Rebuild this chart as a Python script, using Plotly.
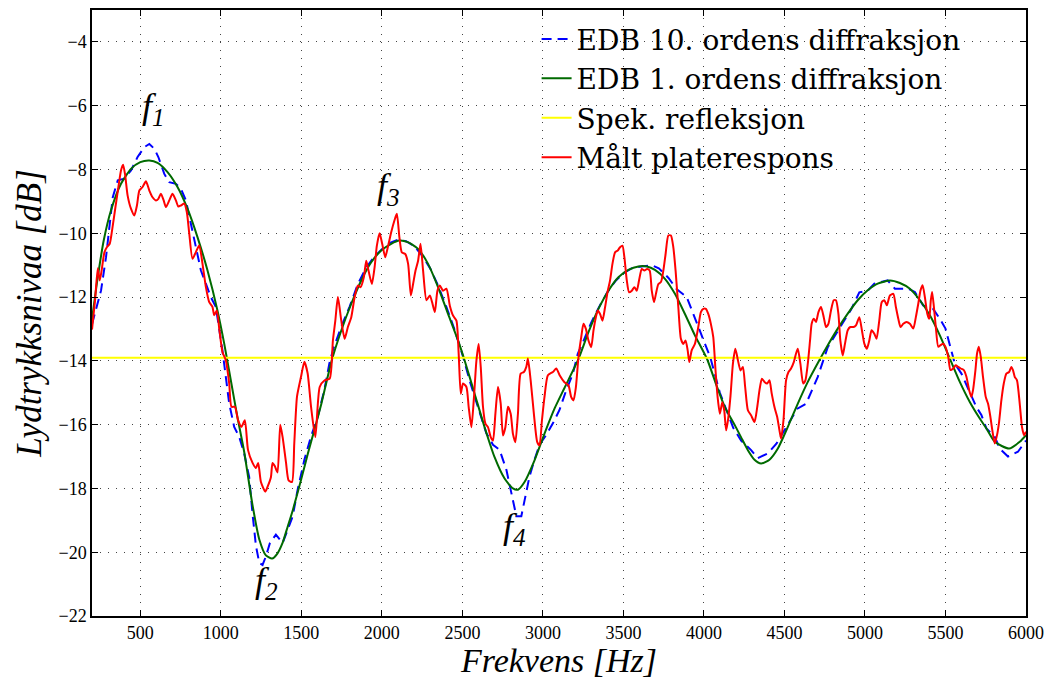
import plotly.graph_objects as go

# ---------------- data ----------------
freq_edb10 = [200, 219, 256, 287, 308, 329, 360, 401, 442, 483, 525, 556, 587, 612, 649, 680, 721, 752,
              783, 814, 845, 876, 907, 938, 969, 990, 1010, 1031, 1052, 1083, 1114, 1145, 1176, 1197,
              1218, 1239, 1259, 1280, 1305, 1342, 1384, 1415, 1446, 1477, 1519, 1560, 1602, 1643, 1674,
              1700, 1750, 1800, 1850, 1900, 1950, 2000, 2050, 2100, 2150, 2200, 2250, 2300, 2350, 2400,
              2450, 2500, 2550, 2600, 2649, 2690, 2731, 2773, 2804, 2835, 2866, 2886, 2917, 2948, 2979,
              3021, 3062, 3103, 3145, 3186, 3217, 3250, 3300, 3350, 3400, 3450, 3500, 3550, 3600, 3676,
              3720, 3780, 3830, 3893, 3940, 3990, 4040, 4099, 4130, 4182, 4231, 4293, 4335, 4397, 4450,
              4521, 4580, 4634, 4707, 4769, 4820, 4872, 4913, 4965, 5017, 5058, 5141, 5186, 5268, 5310,
              5361, 5423, 5465, 5500, 5558, 5599, 5650, 5692, 5723, 5754, 5806, 5837, 5888, 5950, 6000]
lvl_edb10 = [-12.85, -12.47, -11.8, -10.75, -9.8, -8.87, -8.34, -8.29, -8.03, -7.61, -7.3, -7.2, -7.35,
             -7.61, -8.14, -8.4, -8.45, -8.6, -8.97, -9.7, -10.54, -11.16, -11.58, -12.0, -12.31, -12.94,
             -13.67, -14.5, -15.34, -16.07, -16.38, -16.9, -17.64, -18.8, -19.8, -20.34, -20.4, -20.13,
             -19.71, -19.45, -19.71, -19.3, -18.88, -18.04, -17.1, -16.37, -15.75, -14.91, -14.08,
             -13.6, -12.9, -12.3, -11.6, -11.1, -10.75, -10.5, -10.3, -10.2, -10.25, -10.4, -10.7, -11.1,
             -11.65, -12.3, -13.0, -13.8, -14.7, -15.5, -16.27, -16.63, -16.79, -17.41, -18.14, -18.87,
             -18.87, -18.35, -17.62, -17.1, -16.63, -16.32, -15.96, -15.54, -14.92, -14.4, -13.77, -13.4,
             -12.8, -12.3, -11.85, -11.5, -11.25, -11.1, -11.05, -11.0, -11.1, -11.4, -11.75, -12.0,
             -12.6, -13.2, -13.9, -15.0, -15.4, -16.1, -16.5, -16.8, -17.05, -16.9, -16.6, -16.0, -15.5,
             -15.35, -14.5, -13.57, -13.15, -12.7, -12.4, -11.85, -11.8, -11.58, -11.48, -11.74, -11.74,
             -11.84, -12.26, -12.37, -12.68, -12.99, -14.09, -14.4, -15.0, -15.45, -15.7, -16.12, -16.38,
             -16.75, -17.0, -16.85, -16.5]

freq_edb1 = [200, 236, 273, 318, 380, 442, 500, 556, 607, 669, 731, 793, 855, 917, 979, 1021, 1062, 1103,
             1145, 1196, 1239, 1280, 1318, 1350, 1384, 1415, 1446, 1500, 1541, 1583, 1624, 1686, 1748,
             1810, 1872, 1934, 1996, 2058, 2109, 2161, 2225, 2287, 2349, 2411, 2473, 2514, 2576, 2638,
             2700, 2762, 2814, 2845, 2886, 2948, 3010, 3072, 3134, 3221, 3283, 3345, 3407, 3469, 3531,
             3593, 3645, 3696, 3758, 3820, 3882, 3944, 4020, 4080, 4130, 4190, 4231, 4273, 4314, 4355,
             4407, 4459, 4521, 4583, 4645, 4720, 4769, 4831, 4893, 4955, 5017, 5079, 5155, 5217, 5279,
             5341, 5403, 5465, 5527, 5589, 5651, 5713, 5754, 5806, 5895, 5961, 6000]
lvl_edb1 = [-12.7, -11.37, -10.22, -9.28, -8.45, -7.98, -7.77, -7.72, -7.79, -8.08, -8.55, -9.23, -10.12,
            -11.16, -12.42, -13.46, -14.61, -15.76, -16.85, -18.5, -19.6, -20.1, -20.2, -20.05, -19.7,
            -19.2, -18.7, -17.7, -16.9, -16.13, -15.35, -14.04, -13.05, -12.21, -11.48, -10.91, -10.54,
            -10.33, -10.23, -10.28, -10.49, -10.96, -11.69, -12.53, -13.36, -13.99, -15.03, -16.08,
            -17.02, -17.69, -18.0, -18.04, -17.8, -17.12, -16.28, -15.5, -14.85, -13.94, -13.1, -12.37,
            -11.8, -11.38, -11.15, -11.04, -11.04, -11.15, -11.43, -11.9, -12.53, -13.2, -13.95, -14.8,
            -15.45, -16.0, -16.4, -16.8, -17.1, -17.22, -17.1, -16.75, -16.07, -15.34, -14.66, -13.95,
            -13.51, -12.99, -12.52, -12.1, -11.79, -11.58, -11.48, -11.56, -11.74, -12.1, -12.57, -13.2,
            -13.93, -14.66, -15.29, -15.81, -16.12, -16.54, -16.75, -16.54, -16.33]

freq_spek = [200, 6000]
lvl_spek = [-13.9, -13.9]

freq_malt = [200, 219, 236, 248, 260, 277, 293, 310, 326, 347, 364, 380, 393, 405, 421, 442, 463, 479,
             494, 514, 535, 556, 576, 597, 612, 628, 645, 659, 680, 700, 721, 736, 752, 773, 789, 804,
             824, 845, 866, 886, 907, 928, 948, 959, 975, 990, 1010, 1031, 1052, 1066, 1087, 1107, 1128,
             1149, 1169, 1197, 1218, 1232, 1249, 1276, 1290, 1311, 1321, 1335, 1352, 1369, 1384, 1405,
             1421, 1442, 1456, 1473, 1498, 1519, 1539, 1560, 1587, 1614, 1645, 1676, 1696, 1711, 1727,
             1748, 1769, 1789, 1810, 1831, 1851, 1868, 1888, 1903, 1917, 1938, 1955, 1969, 1986, 2002,
             2021, 2037, 2058, 2078, 2093, 2109, 2124, 2145, 2163, 2180, 2194, 2209, 2225, 2240, 2256,
             2277, 2298, 2312, 2329, 2345, 2360, 2380, 2401, 2422, 2442, 2463, 2477, 2490, 2504, 2525,
             2539, 2556, 2572, 2587, 2601, 2614, 2628, 2643, 2659, 2676, 2690, 2705, 2721, 2738, 2752,
             2767, 2783, 2800, 2814, 2829, 2845, 2862, 2882, 2897, 2907, 2924, 2944, 2965, 2979, 2994,
             3010, 3031, 3062, 3083, 3104, 3134, 3159, 3176, 3190, 3205, 3221, 3238, 3252, 3267, 3283,
             3300, 3314, 3329, 3341, 3355, 3370, 3386, 3403, 3417, 3432, 3448, 3465, 3479, 3494, 3506,
             3521, 3535, 3552, 3568, 3583, 3597, 3614, 3630, 3647, 3663, 3676, 3690, 3702, 3717, 3733,
             3748, 3762, 3779, 3795, 3810, 3824, 3841, 3857, 3872, 3886, 3899, 3909, 3924, 3944, 3965,
             3981, 3996, 4012, 4027, 4043, 4058, 4072, 4085, 4099, 4114, 4126, 4138, 4151, 4165, 4180,
             4195, 4211, 4227, 4242, 4256, 4273, 4293, 4314, 4331, 4345, 4360, 4376, 4393, 4407, 4421,
             4438, 4455, 4469, 4479, 4494, 4510, 4525, 4541, 4558, 4572, 4583, 4599, 4616, 4630, 4645,
             4659, 4669, 4682, 4696, 4711, 4727, 4744, 4758, 4773, 4789, 4806, 4820, 4835, 4847, 4862,
             4876, 4893, 4909, 4930, 4944, 4965, 4981, 4996, 5012, 5027, 5041, 5058, 5072, 5089, 5104,
             5120, 5136, 5155, 5176, 5192, 5207, 5221, 5238, 5258, 5279, 5300, 5316, 5331, 5345, 5358,
             5372, 5387, 5399, 5409, 5417, 5428, 5440, 5455, 5469, 5486, 5500, 5517, 5531, 5548, 5564,
             5579, 5595, 5614, 5630, 5647, 5661, 5671, 5686, 5696, 5707, 5719, 5733, 5750, 5764, 5779,
             5791, 5806, 5820, 5833, 5847, 5862, 5878, 5895, 5909, 5919, 5930, 5944, 5961, 5975, 5988,
             6000]
lvl_malt = [-13.02, -12.1, -11.1, -11.48, -11.16, -10.6, -10.43, -10.33, -9.86, -9.13, -8.55, -8.03,
            -7.85, -8.14, -8.81, -9.23, -9.44, -9.13, -8.66, -8.55, -8.37, -8.66, -8.87, -8.97, -8.92,
            -8.76, -8.97, -9.18, -8.97, -8.76, -8.97, -9.16, -9.13, -9.07, -9.34, -10.01, -10.8, -10.59,
            -10.38, -10.95, -11.68, -12.16, -12.31, -12.57, -12.42, -12.99, -13.72, -13.98, -14.71,
            -15.44, -15.44, -15.86, -16.07, -15.86, -16.8, -17.2, -17.36, -17.2, -17.8, -18.1, -17.95,
            -17.65, -17.2, -17.3, -17.5, -16.0, -16.4, -17.2, -17.75, -17.8, -16.6, -15.12, -14.5,
            -14.03, -14.39, -15.43, -16.39, -14.82, -14.61, -14.56, -13.36, -12.74, -12.0, -12.74,
            -13.31, -12.94, -12.63, -12.0, -11.64, -11.69, -11.38, -10.86, -11.17, -11.59, -11.06,
            -10.39, -10.0, -10.33, -10.75, -10.44, -9.97, -9.6, -9.39, -10.13, -10.6, -10.65, -10.96,
            -11.95, -11.59, -11.17, -10.86, -10.33, -11.17, -12.1, -11.95, -12.16, -12.47, -11.8,
            -11.64, -11.8, -11.74, -12.27, -12.58, -12.74, -13.78, -15.03, -14.71, -14.82, -15.44,
            -16.08, -15.14, -14.0, -13.47, -14.19, -15.44, -15.97, -16.08, -16.39, -16.5, -15.66,
            -14.82, -15.34, -16.34, -16.08, -15.44, -15.66, -16.29, -16.55, -15.66, -14.4, -14.35,
            -14.19, -13.93, -14.61, -15.66, -16.55, -16.65, -15.87, -15.13, -14.45, -14.35, -14.24,
            -14.45, -14.67, -14.77, -15.14, -15.24, -14.82, -13.88, -13.26, -12.84, -13.0, -13.36,
            -13.57, -13.05, -12.63, -12.42, -12.53, -12.74, -12.32, -11.8, -11.48, -10.96, -10.6,
            -10.54, -10.44, -10.39, -10.75, -11.48, -11.85, -11.8, -11.69, -11.8, -11.48, -11.12,
            -11.17, -11.12, -11.17, -11.8, -12.16, -11.9, -11.59, -11.53, -11.17, -10.65, -10.07,
            -10.07, -10.44, -11.17, -12.32, -13.31, -13.47, -13.36, -13.67, -14.04, -13.67, -13.47,
            -12.94, -12.47, -12.37, -12.37, -12.53, -12.84, -13.26, -14.3, -15.14, -15.66, -15.3,
            -15.55, -16.18, -15.8, -15.1, -14.09, -13.62, -13.98, -14.3, -14.19, -14.82, -15.55, -15.71,
            -15.92, -15.45, -14.92, -14.56, -14.66, -14.71, -14.61, -15.03, -15.45, -15.76, -16.18,
            -16.44, -15.86, -14.61, -14.35, -14.24, -14.04, -13.77, -13.62, -14.09, -14.71, -14.61,
            -14.09, -13.36, -12.84, -12.68, -12.78, -12.47, -12.31, -12.63, -12.94, -12.84, -12.42,
            -12.1, -12.1, -12.52, -13.36, -13.83, -13.46, -13.04, -12.94, -12.94, -12.89, -12.63,
            -13.04, -13.46, -13.62, -13.36, -13.04, -13.15, -13.31, -12.73, -12.16, -12.1, -12.26,
            -11.95, -11.9, -12.31, -12.68, -12.94, -12.84, -12.78, -12.84, -12.99, -12.63, -12.21,
            -11.79, -11.63, -12.0, -12.52, -12.68, -12.1, -11.84, -12.31, -12.94, -13.56, -13.51,
            -13.46, -13.56, -13.87, -14.29, -14.24, -14.14, -14.19, -14.24, -14.29, -14.5, -14.92,
            -15.13, -14.92, -14.29, -13.77, -13.56, -13.87, -14.5, -15.13, -15.34, -15.76, -16.18,
            -16.59, -16.33, -15.91, -15.24, -14.71, -14.4, -14.35, -14.19, -14.29, -14.5, -14.61,
            -15.34, -16.07, -16.33, -16.22]

series_names = ["EDB 10. ordens diffraksjon", "EDB 1. ordens diffraksjon",
                "Spek. refleksjon", "Målt platerespons"]

x_ticks = [500, 1000, 1500, 2000, 2500, 3000, 3500, 4000, 4500, 5000, 5500, 6000]
y_ticks = [-22, -20, -18, -16, -14, -12, -10, -8, -6, -4]

peak_labels = ["<i>f</i><sub><i>1</i></sub>", "<i>f</i><sub><i>2</i></sub>",
               "<i>f</i><sub><i>3</i></sub>", "<i>f</i><sub><i>4</i></sub>"]
peak_freq = [580, 1285, 2040, 2825]
peak_lvl = [-6.1, -20.95, -8.6, -19.25]

# ---------------- figure ----------------
fig = go.Figure()
fig.add_trace(go.Scatter(x=freq_edb10, y=lvl_edb10, mode="lines", name=series_names[0],
                         line=dict(color="#0000FF", width=2, dash="10px,6px")))
fig.add_trace(go.Scatter(x=freq_edb1, y=lvl_edb1, mode="lines", name=series_names[1],
                         line=dict(color="#006A00", width=2, shape="spline", smoothing=0.6)))
fig.add_trace(go.Scatter(x=freq_spek, y=lvl_spek, mode="lines", name=series_names[2],
                         line=dict(color="#FFFF00", width=2)))
fig.add_trace(go.Scatter(x=freq_malt, y=lvl_malt, mode="lines", name=series_names[3],
                         line=dict(color="#FF0000", width=2, shape="spline", smoothing=0.6)))

for txt, fx, fy in zip(peak_labels, peak_freq, peak_lvl):
    fig.add_annotation(x=fx, y=fy, text=txt, showarrow=False,
                       font=dict(family="Liberation Serif", size=36, color="black"))

axis_common = dict(
    showline=True, linecolor="black", linewidth=1.5, mirror="allticks",
    ticks="inside", ticklen=6, tickwidth=1, tickcolor="black",
    showgrid=True, gridcolor="#444444", gridwidth=1, griddash="1px,7px",
    zeroline=False,
    tickfont=dict(family="Liberation Serif", size=18, color="black"),
)

fig.update_xaxes(range=[200, 6000], tickvals=x_ticks,
                 title=dict(text="<i>Frekvens [Hz]</i>", standoff=10,
                            font=dict(family="Liberation Serif", size=34, color="black")),
                 **axis_common)
fig.update_yaxes(range=[-22, -3], tickvals=y_ticks,
                 title=dict(text="<i>Lydtrykksnivaa [dB]</i>", standoff=6,
                            font=dict(family="Liberation Serif", size=35, color="black")),
                 **axis_common)

fig.update_layout(
    width=1064, height=679,
    margin=dict(l=92, r=38, t=10, b=63, autoexpand=False),
    paper_bgcolor="white", plot_bgcolor="white",
    showlegend=True,
    legend=dict(x=0.476, y=0.993, xanchor="left", yanchor="top",
                bgcolor="rgba(0,0,0,0)", borderwidth=0,
                font=dict(family="DejaVu Serif", size=28, color="black"),
                tracegroupgap=0),
)

fig.write_html("out.html")
